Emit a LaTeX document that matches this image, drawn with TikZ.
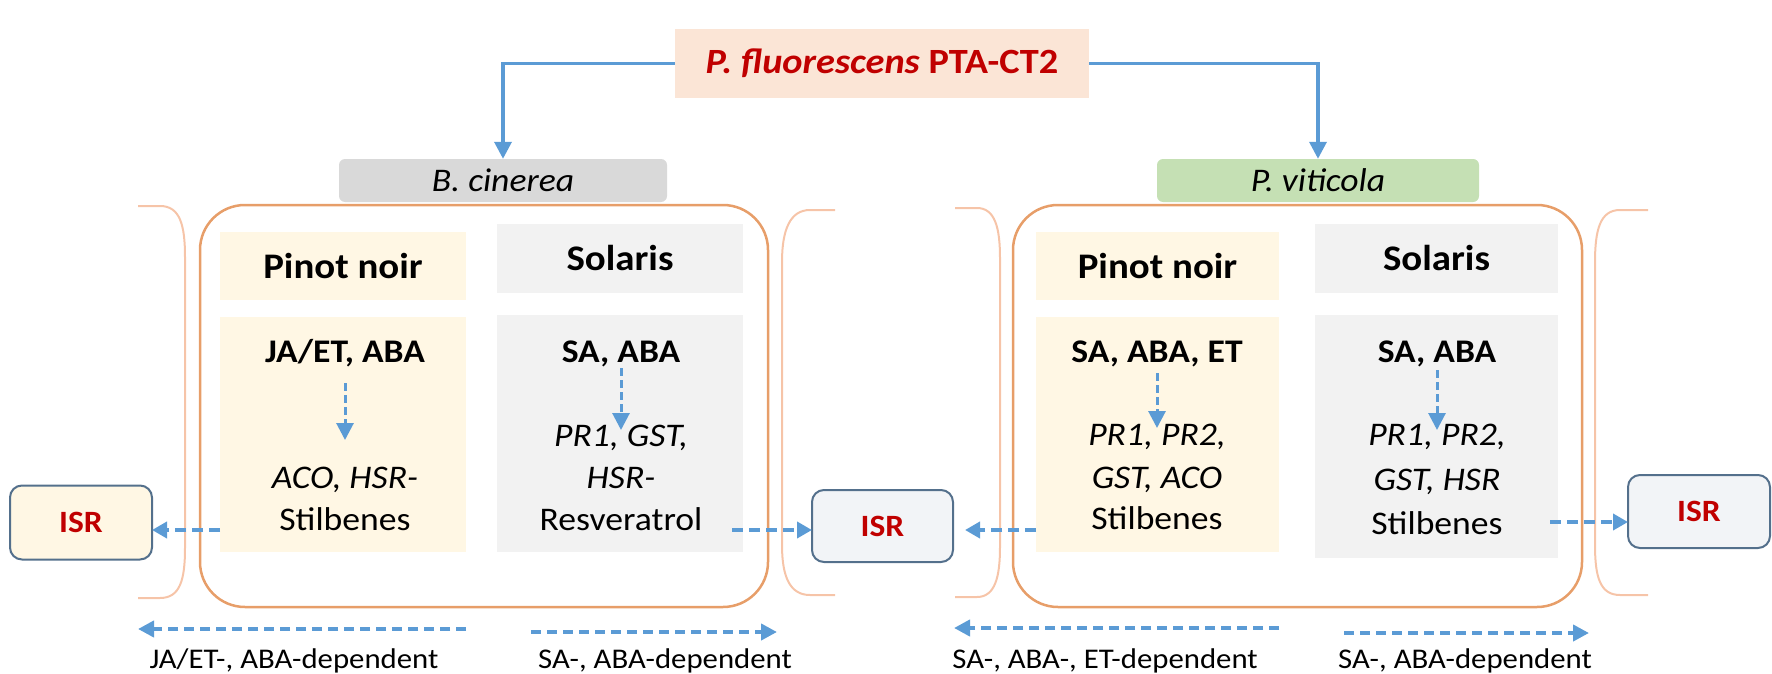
\documentclass[tikz,border=0pt]{standalone}
\usepackage{fontspec}
\setmainfont{Carlito}[FakeStretch=1.08]
\usetikzlibrary{arrows.meta}
\definecolor{blu}{RGB}{91,155,213}
\definecolor{org}{RGB}{231,158,105}
\definecolor{brkc}{RGB}{246,196,168}
\definecolor{cream}{RGB}{255,247,228}
\definecolor{lgray}{RGB}{242,242,242}
\definecolor{salmon}{RGB}{251,229,214}
\definecolor{dred}{RGB}{192,0,0}
\definecolor{hgray}{RGB}{217,217,217}
\definecolor{hgreen}{RGB}{197,224,180}
\definecolor{isrb}{RGB}{84,112,140}
\definecolor{isrf}{RGB}{242,244,247}
\tikzset{
  cell/.style={inner sep=0pt},
  hdr/.style={inner sep=0pt, font=\fontsize{36}{43}\selectfont\bfseries},
  ln/.style={inner sep=0pt, anchor=base, font=\fontsize{33}{40}\selectfont},
  topline/.style={draw=blu, line width=3.5pt, -{Triangle[length=17pt,width=17pt]}},
  vdash/.style={draw=blu, line width=3pt, dash pattern=on 8pt off 4pt, -{Triangle[length=17pt,width=17pt]}},
  hdash/.style={draw=blu, line width=4pt, dash pattern=on 11pt off 6pt, -{Triangle[length=15pt,width=16pt]}},
  bdash/.style={draw=blu, line width=4pt, dash pattern=on 10pt off 6pt, -{Triangle[length=16pt,width=16pt]}},
  isr/.style={draw=isrb, line width=2pt, rounded corners=12pt, minimum width=142pt, minimum height=74pt, inner sep=0pt, text=dred, font=\fontsize{31}{37}\selectfont\bfseries},
  brk/.style={draw=brkc, line width=2pt},
  grp/.style={draw=org, line width=2.5pt, rounded corners=45pt, inner sep=0pt},
  lab/.style={inner sep=0pt, anchor=base, font=\fontsize{28.5}{34}\selectfont},
}
\begin{document}
\begin{tikzpicture}[x=1pt,y=-1pt]
\useasboundingbox (0,0) rectangle (1772,674);

% top node
\node[fill=salmon, minimum width=414pt, minimum height=69pt, inner sep=0pt, text=dred,
      font=\fontsize{35.5}{42}\selectfont\bfseries] (top) at (882,63.5) {\textit{P. fluorescens} PTA-CT2};

% pathogen headers
\node[fill=hgray, rounded corners=6pt, minimum width=328pt, minimum height=43pt, inner sep=0pt,
      font=\fontsize{33}{40}\selectfont\itshape] (bcin) at (503,180.5) {B. cinerea};
\node[fill=hgreen, rounded corners=6pt, minimum width=322pt, minimum height=43pt, inner sep=0pt,
      font=\fontsize{33}{40}\selectfont\itshape] (pvit) at (1318,180.5) {P. viticola};

\draw[topline] (top.west) -| (bcin.north);
\draw[topline] (top.east) -| (pvit.north);

% brackets
\draw[brk] (138,206) -- (160,206) .. controls (180,206) and (185,225) .. (185,257) -- (185,548) .. controls (185,580) and (180,598) .. (160,598) -- (138,598);
\draw[brk] (835,210) -- (810,210) .. controls (790,210) and (782,230) .. (782,262) -- (782,545) .. controls (782,577) and (790,595) .. (810,595) -- (835,595);
\draw[brk] (955,208) -- (977,208) .. controls (995,208) and (1000,228) .. (1000,258) -- (1000,547) .. controls (1000,577) and (995,597) .. (977,597) -- (955,597);
\draw[brk] (1648,210) -- (1620,210) .. controls (1600,210) and (1595,230) .. (1595,262) -- (1595,545) .. controls (1595,577) and (1600,595) .. (1620,595) -- (1648,595);

% group frames
\node[grp, minimum width=568pt, minimum height=402pt] (lgrp) at (484,406) {};
\node[grp, minimum width=569pt, minimum height=402pt] (rgrp) at (1297.5,406) {};

% cells left group
\node[cell, fill=cream, minimum width=246pt, minimum height=68pt, hdr] (lph) at (343,266) {Pinot noir};
\node[cell, fill=lgray, minimum width=246pt, minimum height=69pt, hdr] (lsh) at (620,258.5) {Solaris};
\node[cell, fill=cream, minimum width=246pt, minimum height=235pt] (lpb) at (343,434.5) {};
\node[cell, fill=lgray, minimum width=246pt, minimum height=237pt] (lsb) at (620,433.5) {};
% cells right group
\node[cell, fill=cream, minimum width=243pt, minimum height=68pt, hdr] (rph) at (1157.5,266) {Pinot noir};
\node[cell, fill=lgray, minimum width=243pt, minimum height=69pt, hdr] (rsh) at (1436.5,258.5) {Solaris};
\node[cell, fill=cream, minimum width=243pt, minimum height=235pt] (rpb) at (1157.5,434.5) {};
\node[cell, fill=lgray, minimum width=243pt, minimum height=243pt] (rsb) at (1436.5,436.5) {};

% text left Pinot
\node[ln, font=\fontsize{33}{40}\selectfont\bfseries] (t1a) at (345,362) {JA/ET, ABA};
\node[ln] (t1b) at (345,488) {\textit{ACO, HSR-}};
\node[ln] (t1c) at (345,530) {Stilbenes};
% text left Solaris
\node[ln, font=\fontsize{33}{40}\selectfont\bfseries] (t2a) at (621,362) {SA, ABA};
\node[ln] (t2b) at (621,446) {\textit{PR1, GST,}};
\node[ln] (t2c) at (621,488) {\textit{HSR-}};
\node[ln] (t2d) at (621,530) {Resveratrol};
% text right Pinot
\node[ln, font=\fontsize{33}{40}\selectfont\bfseries] (t3a) at (1157,362) {SA, ABA, ET};
\node[ln] (t3b) at (1157,445) {\textit{PR1, PR2,}};
\node[ln] (t3c) at (1157,488) {\textit{GST, ACO}};
\node[ln] (t3d) at (1157,529) {Stilbenes};
% text right Solaris
\node[ln, font=\fontsize{33}{40}\selectfont\bfseries] (t4a) at (1437,362) {SA, ABA};
\node[ln] (t4b) at (1437,445) {\textit{PR1, PR2,}};
\node[ln] (t4c) at (1437,490) {\textit{GST, HSR}};
\node[ln] (t4d) at (1437,534) {Stilbenes};

% vertical dashed arrows
\coordinate (v1s) at (345,383); \coordinate (v1e) at (345,440);
\coordinate (v2s) at (621,368); \coordinate (v2e) at (621,430);
\coordinate (v3s) at (1157,373); \coordinate (v3e) at (1157,428);
\coordinate (v4s) at (1437,370); \coordinate (v4e) at (1437,430);
\draw[vdash] (v1s) -- (v1e);
\draw[vdash] (v2s) -- (v2e);
\draw[vdash] (v3s) -- (v3e);
\draw[vdash] (v4s) -- (v4e);

% ISR nodes
\node[isr, fill=cream] (lisr) at (81,522.5) {ISR};
\node[isr, fill=isrf, minimum width=141pt, minimum height=72pt] (misr) at (882.5,526) {ISR};
\node[isr, fill=isrf, minimum height=73pt] (risr) at (1699,511.5) {ISR};

% horizontal dashed arrows to ISR
\coordinate (h1s) at (220,530); \coordinate (h1e) at (152,530);
\coordinate (h2s) at (732,530); \coordinate (h2e) at (812,530);
\coordinate (h3s) at (1036,530); \coordinate (h3e) at (965,530);
\coordinate (h4s) at (1550,522); \coordinate (h4e) at (1628,522);
\draw[hdash] (h1s) -- (h1e);
\draw[hdash] (h2s) -- (h2e);
\draw[hdash] (h3s) -- (h3e);
\draw[hdash] (h4s) -- (h4e);

% bottom arrows
\coordinate (b1s) at (466,629); \coordinate (b1e) at (138,629);
\coordinate (b2s) at (531,632); \coordinate (b2e) at (777,632);
\coordinate (b3s) at (1279,628); \coordinate (b3e) at (954,628);
\coordinate (b4s) at (1344,633); \coordinate (b4e) at (1589,633);
\draw[bdash] (b1s) -- (b1e);
\draw[bdash] (b2s) -- (b2e);
\draw[bdash] (b3s) -- (b3e);
\draw[bdash] (b4s) -- (b4e);

% bottom labels
\node[lab] (l1) at (294,668) {JA/ET-, ABA-dependent};
\node[lab] (l2) at (665,668) {SA-, ABA-dependent};
\node[lab] (l3) at (1105,668) {SA-, ABA-, ET-dependent};
\node[lab] (l4) at (1465,668) {SA-, ABA-dependent};
\end{tikzpicture}
\end{document}
